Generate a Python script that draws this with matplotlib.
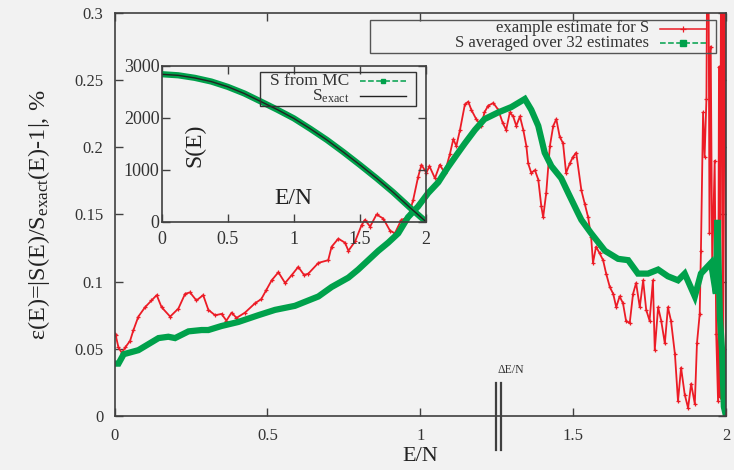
import matplotlib
matplotlib.use("Agg")
import matplotlib.pyplot as plt
from matplotlib.lines import Line2D
from matplotlib.patches import Rectangle

plt.rcParams["font.family"] = ["Liberation Serif", "DejaVu Serif"]
plt.rcParams["mathtext.fontset"] = "custom"
plt.rcParams["mathtext.rm"] = "Liberation Serif"
plt.rcParams["mathtext.it"] = "Liberation Serif:italic"

RED = "#ec1c26"
GREEN = "#00a14b"
FRAME = "#404040"
TEXT = "#333333"
BG = "#f2f2f2"
W, H = 734, 470

# relative error of a single estimate
red_x = [0.000, 0.004, 0.013, 0.024, 0.035, 0.051, 0.062, 0.078, 0.100, 0.121,
         0.138, 0.154, 0.182, 0.209, 0.231, 0.247, 0.268, 0.290, 0.307, 0.329,
         0.350, 0.366, 0.383, 0.399, 0.427, 0.460, 0.480, 0.497, 0.514, 0.536,
         0.558, 0.580, 0.601, 0.620, 0.634, 0.667, 0.699, 0.710, 0.732, 0.754,
         0.765, 0.787, 0.808, 0.819, 0.836, 0.857, 0.879, 0.901, 0.917, 0.938,
         0.961, 0.977, 0.993, 1.004, 1.020, 1.030, 1.048, 1.064, 1.080, 1.097,
         1.108, 1.118, 1.130, 1.146, 1.157, 1.167, 1.183, 1.200, 1.210, 1.222,
         1.239, 1.255, 1.270, 1.281, 1.293, 1.304, 1.314, 1.326, 1.337, 1.347,
         1.353, 1.363, 1.375, 1.386, 1.396, 1.402, 1.412, 1.424, 1.435, 1.445,
         1.456, 1.467, 1.477, 1.489, 1.500, 1.510, 1.527, 1.538, 1.549, 1.559,
         1.565, 1.575, 1.587, 1.598, 1.608, 1.620, 1.631, 1.641, 1.652, 1.663,
         1.673, 1.685, 1.696, 1.706, 1.718, 1.729, 1.739, 1.750, 1.761, 1.767,
         1.778, 1.788, 1.800, 1.810, 1.820, 1.833, 1.843, 1.853, 1.865, 1.876,
         1.886, 1.898, 1.905, 1.914, 1.918, 1.925, 1.930, 1.936, 1.941, 1.946,
         1.950, 1.955, 1.963, 1.968, 1.974, 1.977, 1.980, 1.985, 1.990, 1.994,
         2.000]
red_y = [0.061, 0.060, 0.051, 0.047, 0.051, 0.056, 0.064, 0.074, 0.081, 0.086,
         0.090, 0.081, 0.074, 0.080, 0.091, 0.092, 0.086, 0.090, 0.079, 0.075,
         0.076, 0.071, 0.077, 0.073, 0.077, 0.084, 0.087, 0.094, 0.101, 0.107,
         0.099, 0.105, 0.111, 0.105, 0.106, 0.114, 0.116, 0.126, 0.132, 0.129,
         0.123, 0.130, 0.142, 0.146, 0.141, 0.150, 0.147, 0.138, 0.136, 0.146,
         0.148, 0.161, 0.178, 0.187, 0.181, 0.186, 0.177, 0.187, 0.181, 0.195,
         0.206, 0.201, 0.213, 0.232, 0.234, 0.228, 0.221, 0.216, 0.226, 0.231,
         0.233, 0.228, 0.218, 0.213, 0.226, 0.223, 0.216, 0.223, 0.213, 0.201,
         0.188, 0.181, 0.183, 0.176, 0.156, 0.148, 0.166, 0.201, 0.216, 0.221,
         0.208, 0.203, 0.181, 0.188, 0.193, 0.196, 0.168, 0.158, 0.148, 0.133,
         0.114, 0.126, 0.121, 0.116, 0.106, 0.096, 0.091, 0.081, 0.089, 0.084,
         0.071, 0.069, 0.091, 0.099, 0.081, 0.101, 0.079, 0.071, 0.101, 0.049,
         0.081, 0.071, 0.054, 0.081, 0.071, 0.046, 0.011, 0.036, 0.016, 0.006,
         0.024, 0.009, 0.054, 0.076, 0.123, 0.226, 0.193, 0.236, 0.450, 0.136,
         0.275, 0.111, 0.190, 0.061, 0.011, 0.260, 0.014, 0.450, 0.006, 0.450,
         0.002]

# relative error of the average over 32 estimates
green_x = [0.000, 0.013, 0.030, 0.046, 0.078, 0.100, 0.144, 0.176, 0.198, 0.242,
           0.285, 0.307, 0.350, 0.405, 0.470, 0.525, 0.590, 0.634, 0.667, 0.710,
           0.765, 0.797, 0.830, 0.863, 0.895, 0.928, 0.960, 0.993, 1.026, 1.059,
           1.090, 1.124, 1.146, 1.179, 1.210, 1.255, 1.298, 1.320, 1.342, 1.363,
           1.386, 1.407, 1.429, 1.461, 1.484, 1.516, 1.527, 1.559, 1.604, 1.647,
           1.680, 1.712, 1.745, 1.778, 1.810, 1.843, 1.865, 1.898, 1.918, 1.951,
           1.967, 1.972, 1.980, 1.987, 1.993, 2.000]
green_y = [0.039, 0.039, 0.046, 0.047, 0.049, 0.052, 0.058, 0.059, 0.058, 0.063,
           0.064, 0.064, 0.067, 0.070, 0.075, 0.079, 0.082, 0.086, 0.089, 0.096,
           0.103, 0.109, 0.116, 0.123, 0.129, 0.136, 0.148, 0.156, 0.166, 0.174,
           0.185, 0.196, 0.203, 0.213, 0.221, 0.226, 0.230, 0.233, 0.236, 0.228,
           0.216, 0.196, 0.186, 0.177, 0.166, 0.151, 0.146, 0.136, 0.123, 0.117,
           0.116, 0.106, 0.106, 0.109, 0.104, 0.101, 0.106, 0.089, 0.106, 0.114,
           0.091, 0.146, 0.074, 0.049, 0.007, 0.000]

# entropy S(E) for the inset
s_e = [0.0, 0.125, 0.25, 0.375, 0.5, 0.625, 0.75, 0.875, 1.0, 1.125,
       1.25, 1.375, 1.5, 1.625, 1.75, 1.875, 2.0]
s_exact = [2840, 2820, 2770, 2700, 2600, 2470, 2315, 2160, 1990, 1790,
           1575, 1340, 1095, 840, 570, 280, 0]
s_mc = [2842, 2821, 2772, 2701, 2598, 2471, 2316, 2158, 1991, 1789,
        1576, 1341, 1094, 839, 571, 279, 0]

xtick_vals = [0, 0.5, 1, 1.5, 2]
xtick_text = ["0", "0.5", "1", "1.5", "2"]
main_yticks = [0, 0.05, 0.1, 0.15, 0.2, 0.25, 0.3]
main_ytext = ["0", "0.05", "0.1", "0.15", "0.2", "0.25", "0.3"]
inset_yticks = [0, 1000, 2000, 3000]

main_labels = ["example estimate for S", "S averaged over 32 estimates"]
inset_labels = ["S from MC", r"S$_{\rm exact}$"]


def fx(px):
    return px / W


def fy(py):
    return 1 - py / H


def style_axes(a, size):
    a.tick_params(direction="in", length=6, width=1, color=FRAME, top=True,
                  right=True, labelsize=size, labelcolor=TEXT)
    for sp in a.spines.values():
        sp.set_color(FRAME)
        sp.set_linewidth(1.2)


def legend_row(y, text, line_kw, mark_kw, x_text, x0, x1, size):
    # gnuplot-style key entry: right aligned text, sample line after it
    fig.text(fx(x_text), fy(y), text, ha="right", va="center", fontsize=size,
             color=TEXT)
    fig.add_artist(Line2D([fx(x0), fx(x1)], [fy(y), fy(y)],
                          transform=fig.transFigure, **line_kw))
    if mark_kw:
        xm = (x0 + x1) / 2
        fig.add_artist(Line2D([fx(xm)], [fy(y)], ls="none",
                              transform=fig.transFigure, **mark_kw))


def key_box(x0, y0, x1, y1, color):
    fig.add_artist(Rectangle((fx(x0), fy(y1)), fx(x1) - fx(x0),
                             fy(y0) - fy(y1), transform=fig.transFigure,
                             fill=False, edgecolor=color, lw=1.0))


fig = plt.figure(figsize=(W / 100, H / 100), dpi=100, facecolor=BG)

ax = fig.add_axes([fx(114.5), fy(416), fx(726) - fx(114.5), fy(13) - fy(416)])
ax.set_facecolor(BG)
ax.plot(red_x, red_y, color=RED, lw=1.3, marker="+", ms=3.5, mew=0.9)
ax.plot(green_x, green_y, color=GREEN, lw=4.5, solid_capstyle="butt",
        solid_joinstyle="miter")
ax.set_xlim(0, 2)
ax.set_ylim(0, 0.3)
ax.set_xticks(xtick_vals)
ax.set_xticklabels(xtick_text)
ax.set_yticks(main_yticks)
ax.set_yticklabels(main_ytext)
style_axes(ax, 12)
ax.tick_params(axis="x", pad=9)
ax.tick_params(axis="y", pad=8)
ax.set_xlabel("E/N", fontsize=16, color="#222222")
ax.xaxis.set_label_coords(0.5, -0.078)
ax.set_ylabel(r"ε(E)=|S(E)/S$_{\rm exact}$(E)-1|, %", fontsize=17.5,
              color="#222222")
ax.yaxis.set_label_coords(-0.103, 0.5)

# energy window width marker
for xm in (1.248, 1.263):
    ax.plot([xm, xm], [-0.0255, 0.0245], color=FRAME, lw=1.6, clip_on=False)
ax.text(1.295, 0.034, "ΔE/N", fontsize=8.5, ha="center", va="center",
        color=TEXT, clip_on=False)

key_box(370, 20, 716, 52.7, "#555555")
legend_row(28.5, main_labels[0], dict(color=RED, lw=1.1),
           dict(color=RED, marker="+", ms=4, mew=0.9), 649, 660, 706, 12)
legend_row(43.0, main_labels[1], dict(color=GREEN, lw=1.1, ls="--"),
           dict(color=GREEN, marker="s", ms=4), 649, 660, 706, 12)

# inset: S(E) itself
ins = fig.add_axes([fx(161.7), fy(221.7), fx(426) - fx(161.7),
                    fy(66) - fy(221.7)])
ins.set_facecolor("none")
ins.plot(s_e, s_mc, color=GREEN, lw=4.5, solid_capstyle="butt")
ins.plot(s_e, s_exact, color="#222222", lw=1.0)
ins.set_xlim(0, 2)
ins.set_ylim(0, 3000)
ins.set_xticks(xtick_vals)
ins.set_xticklabels(xtick_text)
ins.set_yticks(inset_yticks)
style_axes(ins, 13)
ins.tick_params(axis="x", pad=7)
ins.tick_params(axis="y", pad=1.5)
ins.text(0.497, 0.152, "E/N", transform=ins.transAxes, fontsize=17,
         ha="center", va="center", color="#222222")
ins.text(0.126, 0.49, "S(E)", transform=ins.transAxes, fontsize=17,
         rotation=90, ha="center", va="center", color="#222222")

key_box(260, 72, 416, 106, "#333333")
legend_row(81.0, inset_labels[0], dict(color=GREEN, lw=1.1, ls="--"),
           dict(color=GREEN, marker="s", ms=3.5), 349, 360, 406, 12.5)
legend_row(96.0, inset_labels[1], dict(color="#222222", lw=1.0), None,
           349, 360, 406, 12.5)

fig.savefig("out.png", dpi=100, facecolor=BG)
